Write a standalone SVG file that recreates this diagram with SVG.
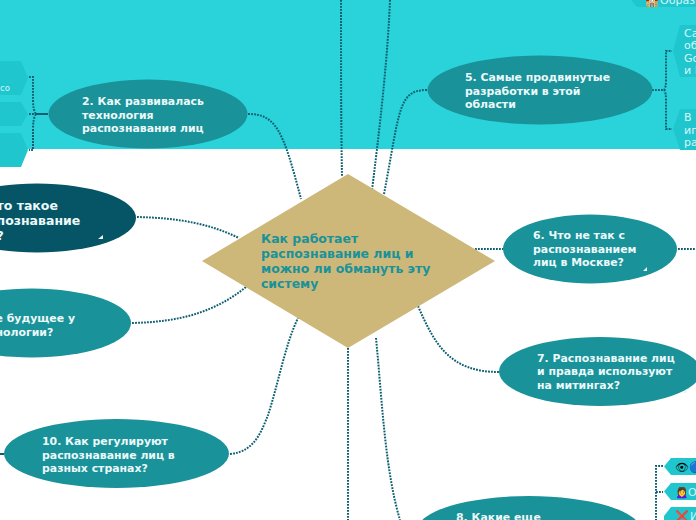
<svg xmlns="http://www.w3.org/2000/svg" width="696" height="520" viewBox="0 0 696 520">
<style>
text{font-family:"DejaVu Sans","Liberation Sans",sans-serif}
.t{font-size:10.9px;font-weight:700;fill:#ecf9fa}
.d{font-size:12.5px;font-weight:700;fill:#ecf9fa}
.c{font-size:12.45px;font-weight:700;fill:#199299}
.s{font-size:11px;fill:#d8f6f8}
.e{font-size:11px}
.n{fill:#199299}
.h{fill:#20c6ce}
#connectors path{fill:none;stroke:#0b5f70;stroke-width:2;stroke-dasharray:1.800 1.200}
#connectors path.solid{stroke-dasharray:none}
</style>
<rect width="696" height="520" fill="#fff"/>
<rect id="band" width="696" height="149" fill="#2ad2da"/>
<g id="connectors">
<path d="M248 114C276 114 283 130 301 199"/>
<path d="M137 217C180 218 210 224 239 238"/>
<path d="M132 323C180 322 215 312 246 287"/>
<path d="M230 454C255 452 262 430 268 415C278 385 285 345 298 318"/>
<path d="M427 90C398 90 400 110 384 194"/>
<path d="M341 0C341 60 341 120 342 176"/>
<path d="M390 0C388 50 382 110 372 190"/>
<path d="M348 348V520"/>
<path d="M376 338C382 400 385 470 400 520"/>
<path d="M475 249H503"/>
<path d="M678 249H696"/>
<path d="M418 306C435 345 450 372 499 372"/>
<path class="solid" d="M48 114H36"/>
<path d="M29 77H33V100Q33 110 36 114Q33 118 33 130V150H29"/>
<path d="M29 114H36"/>
<path d="M652 90H664Q666 88 666 80V51H672M664 90Q666 92 666 100V129H672"/>
<path d="M663 466H656V520M656 492H663"/>
<path class="solid" d="M0 454H4"/>
</g>
<g id="center"><polygon points="348,174 495,261 348,348 202,261" fill="#cdb879"/>
<text class="c"><tspan x="261" y="243">Как работает</tspan><tspan x="261" y="258">распознавание лиц и</tspan><tspan x="261" y="273">можно ли обмануть эту</tspan><tspan x="261" y="288">систему</tspan></text></g>
<g id="node2"><ellipse class="n" cx="148" cy="114" rx="99.5" ry="34.5"/>
<text class="t"><tspan x="82" y="105">2. Как развивалась</tspan><tspan x="82" y="119">технология</tspan><tspan x="82" y="132">распознавания лиц</tspan></text></g>
<g id="node1"><ellipse cx="37" cy="218" rx="99" ry="34.5" fill="#055566"/>
<text class="d"><tspan x="-3.500" y="210">то такое</tspan><tspan x="-3.500" y="225">познавание</tspan><tspan x="-3.500" y="240">?</tspan></text>
<polygon points="98,239 103,239 103,235" fill="#e8f4f5"/></g>
<g id="node9"><ellipse class="n" cx="32" cy="323" rx="99" ry="34.5"/>
<text class="t"><tspan x="-4.500" y="322">е будущее у</tspan><tspan x="-4.500" y="336">нологии?</tspan></text></g>
<g id="node10"><ellipse class="n" cx="116.500" cy="453.500" rx="112.500" ry="34.500"/>
<text class="t"><tspan x="42" y="445">10. Как регулируют</tspan><tspan x="42" y="459">распознавание лиц в</tspan><tspan x="42" y="472">разных странах?</tspan></text></g>
<g id="node5"><ellipse class="n" cx="540" cy="90" rx="112.500" ry="34.500"/>
<text class="t"><tspan x="465" y="81">5. Самые продвинутые</tspan><tspan x="465" y="95">разработки в этой</tspan><tspan x="465" y="108">области</tspan></text></g>
<g id="node6"><ellipse class="n" cx="590" cy="249" rx="87" ry="34.500"/>
<text class="t"><tspan x="533" y="239">6. Что не так с</tspan><tspan x="533" y="253">распознаванием</tspan><tspan x="533" y="266">лиц в Москве?</tspan></text>
<polygon points="643,271 647,271 647,267" fill="#e8f4f5"/></g>
<g id="node7"><ellipse class="n" cx="600" cy="371.500" rx="101" ry="34.500"/>
<text class="t"><tspan x="537" y="362">7. Распознавание лиц</tspan><tspan x="537" y="375">и правда используют</tspan><tspan x="537" y="389">на митингах?</tspan></text>
<polygon points="683,393 687,393 687,389" fill="#e8f4f5"/></g>
<g id="node8"><ellipse class="n" cx="529" cy="530.500" rx="112" ry="34.500"/>
<text class="t" x="456" y="521">8. Какие еще</text></g>
<g id="hexL1"><polygon class="h" points="0,61 21,61 28,78 21,95 0,95"/><text class="s" x="0" y="91" style="font-size:8.500px">со</text></g>
<g id="hexL2"><polygon class="h" points="0,102 21,102 28,114 21,126 0,126"/></g>
<g id="hexL3"><polygon class="h" points="0,133 21,133 28,150 21,167 0,167"/></g>
<g id="hexT"><polygon class="h" points="631,0 637,7 696,7 696,0"/><text class="s" x="660" y="4">Образ</text><text class="e" x="645" y="5">🏫</text></g>
<g id="hexR1"><polygon class="h" points="680,25 696,25 696,77 680,77 673,51"/><text class="s"><tspan x="684" y="37">Са</tspan><tspan x="684" y="49">об</tspan><tspan x="684" y="62">Go</tspan><tspan x="684" y="74">и I</tspan></text></g>
<g id="hexR2"><polygon class="h" points="680,109 696,109 696,150 680,150 673,129"/><text class="s"><tspan x="684" y="121">В</tspan><tspan x="684" y="134">иг</tspan><tspan x="684" y="146">ра</tspan></text></g>
<g id="hexB1"><polygon class="h" points="671,458 696,458 696,475 671,475 664,466.500"/><text class="e" x="675" y="471">👁🔵</text></g>
<g id="hexB2"><polygon class="h" points="671,483 696,483 696,500 671,500 664,491.500"/><text class="e" x="675" y="496">🙍‍♀️</text><text class="s" x="688" y="496">О</text></g>
<g id="hexB3"><polygon class="h" points="671,507 696,507 696,520 664,520 664,516"/><text class="e" x="675" y="520">❌</text><text class="s" x="690" y="520">И</text></g>
</svg>
